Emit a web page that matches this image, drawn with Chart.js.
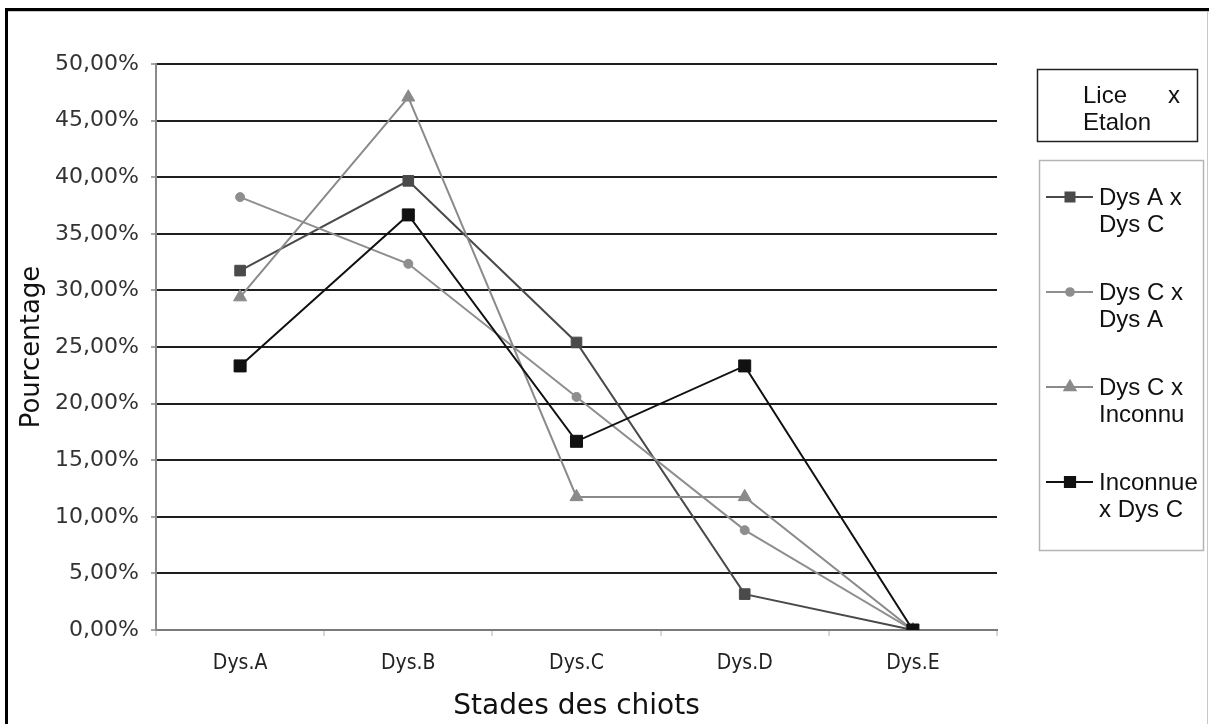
<!DOCTYPE html>
<html><head><meta charset="utf-8">
<script src="https://cdn.jsdelivr.net/npm/chart.js@4.4.1/dist/chart.umd.min.js"></script>
<style>html,body{margin:0;padding:0;background:#fff;overflow:hidden}canvas{display:block}</style>
</head><body>
<canvas id="c" width="1209" height="724"></canvas>
<script>
// ---- data ----
const categories = ['Dys.A', 'Dys.B', 'Dys.C', 'Dys.D', 'Dys.E'];
const seriesNames = ['Dys A x Dys C', 'Dys C x Dys A', 'Dys C x Inconnu', 'Inconnue x Dys C'];
const dysAxDysC = [31.75, 39.68, 25.40, 3.17, 0];
const dysCxDysA = [38.24, 32.35, 20.59, 8.82, 0];
const dysCxInconnu = [29.41, 47.06, 11.76, 11.76, 0];
const inconnuexDysC = [23.33, 36.67, 16.67, 23.33, 0];
const yTickMin = 0, yTickMax = 50, yTickStep = 5;
const yAxisTitle = 'Pourcentage';
const xAxisTitle = 'Stades des chiots';
const legendTitle = 'Lice x Etalon';

const seriesValues = [dysAxDysC, dysCxDysA, dysCxInconnu, inconnuexDysC];
const seriesColors = ['#4a4a4a', '#8e8e8e', '#8a8a8a', '#111111'];
const seriesPoints = ['rect', 'circle', 'triangle', 'rect'];
const seriesRadius = [7.5, 4.5, 7.5, 8.5];

const REG_FONT = "'DejaVu Sans', Verdana, sans-serif";
const COND_FONT = "'DejaVu Sans Condensed', 'DejaVu Sans', sans-serif";
const LEG_FONT = "'Liberation Sans', Arial, sans-serif";

function wrap(ctx, text, maxW) {
  const words = text.split(' ');
  const lines = [];
  let cur = '';
  for (const w of words) {
    const t = cur ? cur + ' ' + w : w;
    if (cur && ctx.measureText(t).width > maxW) { lines.push(cur); cur = w; }
    else cur = t;
  }
  if (cur) lines.push(cur);
  return lines;
}

const decorPlugin = {
  id: 'decor',
  beforeDraw(chart) {
    const ctx = chart.ctx;
    ctx.save();
    ctx.fillStyle = '#fff';
    ctx.fillRect(0, 0, chart.width, chart.height);
    ctx.restore();
  },
  afterDraw(chart) {
    const ctx = chart.ctx;
    ctx.save();
    // outer frame (top + left)
    ctx.fillStyle = '#000';
    ctx.fillRect(5, 8, chart.width - 5, 3);
    ctx.fillRect(5, 8, 3, chart.height - 8);
    ctx.fillStyle = '#c8c8c8';
    ctx.fillRect(8, 11, chart.width - 8, 1);
    ctx.fillRect(1207, 11, 1, chart.height - 11);

    // legend title box
    ctx.strokeStyle = '#222';
    ctx.lineWidth = 1.5;
    ctx.strokeRect(1037.5, 69.5, 160, 72);
    ctx.fillStyle = '#111';
    ctx.font = '24px ' + LEG_FONT;
    ctx.textBaseline = 'middle';
    const tl = wrap(ctx, legendTitle, 97);
    const tx0 = 1083, tx1 = 1180;
    tl.forEach((line, k) => {
      const y = 96 + k * 27;
      const words = line.split(' ');
      ctx.textAlign = 'left';
      if (k < tl.length - 1 && words.length > 1) {
        const wsum = words.reduce((s, w) => s + ctx.measureText(w).width, 0);
        const gap = (tx1 - tx0 - wsum) / (words.length - 1);
        let x = tx0;
        words.forEach(w => { ctx.fillText(w, x, y); x += ctx.measureText(w).width + gap; });
      } else {
        ctx.fillText(line, tx0, y);
      }
    });

    // series legend
    ctx.strokeStyle = '#b4b4b4';
    ctx.lineWidth = 1.5;
    ctx.strokeRect(1039.5, 160.5, 164, 390);
    chart.data.datasets.forEach((ds, i) => {
      const y0 = 197 + i * 95;
      ctx.strokeStyle = ds.borderColor;
      ctx.lineWidth = 2;
      ctx.beginPath();
      ctx.moveTo(1046, y0); ctx.lineTo(1093, y0);
      ctx.stroke();
      ctx.fillStyle = ds.pointBackgroundColor;
      ctx.strokeStyle = ds.borderColor;
      Chart.helpers.drawPoint(ctx, {pointStyle: ds.pointStyle, radius: ds.pointRadius * 0.85, rotation: 0, borderWidth: 1}, 1070, y0);
      ctx.fillStyle = '#111';
      ctx.font = '24px ' + LEG_FONT;
      ctx.textAlign = 'left';
      ctx.textBaseline = 'middle';
      const lines = wrap(ctx, ds.label, 104);
      lines.forEach((l, k) => ctx.fillText(l, 1099, y0 + 1 + k * 27));
    });
    ctx.restore();
  }
};

const datasets = seriesNames.map((name, i) => ({
  label: name,
  data: seriesValues[i],
  borderColor: seriesColors[i],
  backgroundColor: seriesColors[i],
  pointBackgroundColor: seriesColors[i],
  pointBorderColor: seriesColors[i],
  pointStyle: seriesPoints[i],
  pointRadius: seriesRadius[i],
  pointBorderWidth: 1,
  borderWidth: 2,
  tension: 0,
  fill: false,
  order: seriesNames.length - i
}));

new Chart(document.getElementById('c'), {
  type: 'line',
  data: { labels: categories, datasets },
  plugins: [decorPlugin],
  options: {
    responsive: false,
    animation: false,
    devicePixelRatio: 1,
    layout: { padding: { left: 0, top: 64, right: 212, bottom: 0 } },
    plugins: { legend: { display: false }, tooltip: { enabled: false } },
    scales: {
      x: {
        type: 'category',
        offset: true,
        grid: {
          offset: true,
          drawOnChartArea: true,
          color: c => (c.index === categories.length ? '#8a8a8a' : 'rgba(0,0,0,0)'),
          lineWidth: 2,
          tickColor: '#b0b0b0',
          tickLength: 6,
          tickWidth: 1
        },
        border: { color: '#7a7a7a', width: 2 },
        ticks: { font: { family: COND_FONT, size: 21 }, color: '#222', padding: 15, maxRotation: 0 },
        title: { display: true, text: xAxisTitle, font: { family: REG_FONT, size: 28 }, color: '#111', padding: { top: 4, bottom: 0 } },
        afterFit(s) { s.height = 94; }
      },
      y: {
        min: yTickMin, max: yTickMax,
        ticks: { stepSize: yTickStep, font: { family: REG_FONT, size: 22 }, color: '#333', padding: 12,
          callback: v => v.toFixed(2).replace('.', ',') + '%' },
        grid: {
          color: c => (c.tick && c.tick.value === 0 ? '#7a7a7a' : '#1e1e1e'),
          lineWidth: 2,
          tickColor: '#8a8a8a',
          tickLength: 5,
          tickWidth: 1.5
        },
        border: { color: '#8a8a8a', width: 2 },
        title: { display: true, text: yAxisTitle, font: { family: REG_FONT, size: 26 }, color: '#111', padding: { top: 17, bottom: 0 } },
        afterFit(s) { s.width = 156; }
      }
    }
  }
});
</script>
</body></html>
